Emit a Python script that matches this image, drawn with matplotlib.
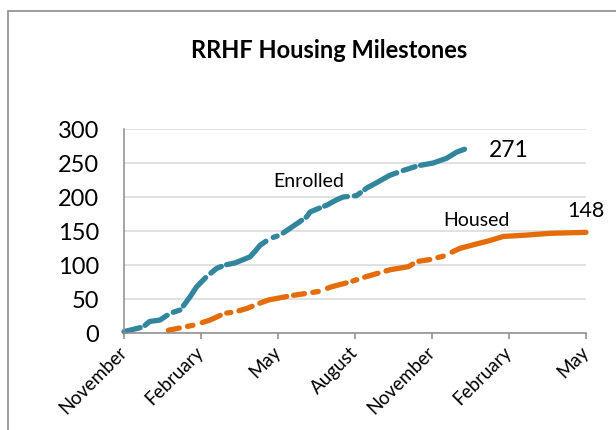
import matplotlib.pyplot as plt
from matplotlib.patches import Rectangle

plt.rcParams['font.family'] = ['Lato', 'DejaVu Sans']
plt.rcParams['lines.scale_dashes'] = False

# months counted from the first November
enrolled_m = [0, 0.75, 1.0, 1.4, 1.8, 2.2, 2.57, 2.83, 3.22, 3.61, 3.93, 4.32, 4.65,
              4.91, 5.1, 5.3, 5.69, 6.08, 6.47, 6.86, 7.12, 7.25, 7.57, 7.9, 8.29,
              8.54, 9.06, 9.45, 9.84, 10.36, 10.88, 11.46, 12.05, 12.57, 12.96, 13.32]
enrolled_v = [2, 9, 17, 19, 29, 34, 53, 68, 83, 95, 100, 103, 108,
              112, 120, 129, 139, 144, 154, 164, 171, 178, 183, 188, 196,
              200, 202, 213, 221, 232, 239, 246, 250, 257, 266, 271]

housed_m = [1.73, 2.12, 2.77, 3.35, 3.93, 4.32, 4.78, 5.3, 5.62, 6.53, 7.57, 8.09,
            8.8, 9.45, 10.36, 11.08, 11.4, 11.92, 12.44, 13.09, 13.74, 14.26,
            14.78, 15.69, 16.6, 18.0]
housed_v = [4, 7, 12, 19, 29, 31, 36, 44, 48.5, 55, 61, 68,
            75, 83, 93, 97.5, 105, 108, 113, 124.5, 131, 136,
            142, 144, 146.6, 148]
housed_solid_from = 13.09

tick_m = [0, 3, 6, 9, 12, 15, 18]
tick_labels = ['November', 'February', 'May', 'August', 'November', 'February', 'May']

teal = '#31859C'
orange = '#E46C0A'
grey = '#8C8C8C'

fig = plt.figure(figsize=(6.16, 4.3), dpi=100)
ax = fig.add_axes([124/616, 97/430, 462/616, 204/430])

dash_e = (0, (12, 4, 18, 5, 5, 4, 26, 5, 9, 4, 34, 6, 3, 5, 16, 4))
ax.plot(enrolled_m, enrolled_v, color=teal, lw=3.8, ls=dash_e,
        dash_capstyle='round', clip_on=False)

k = housed_m.index(housed_solid_from)
dash_h = (0, (8, 6, 4, 7, 14, 5, 3, 6, 10, 6, 20, 5))
ax.plot(housed_m[:k + 1], housed_v[:k + 1], color=orange, lw=3.8, ls=dash_h,
        dash_capstyle='round', clip_on=False)
ax.plot(housed_m[k:], housed_v[k:], color=orange, lw=3.8,
        solid_capstyle='round', clip_on=False)

ax.text(14.22, 269, '271', fontsize=16.5, va='center', ha='left')
ax.text(17.28, 179, '148', fontsize=15.5, va='center', ha='left')
ax.text(5.8, 223, 'Enrolled', fontsize=14, va='center', ha='left')
ax.text(12.43, 166, 'Housed', fontsize=14, va='center', ha='left')

ax.set_xlim(0, 18)
ax.set_ylim(0, 300)
ax.set_yticks(range(0, 301, 50))
ax.set_xticks(tick_m)
ax.set_xticklabels(tick_labels, rotation=45, ha='right', va='center',
                   rotation_mode='anchor', fontsize=13.5)
ax.tick_params(axis='y', length=0, pad=18, labelsize=17)
ax.tick_params(axis='x', length=4, width=1.1, color=grey, pad=8)
ax.grid(axis='y', color='#D9D9D9', lw=1.1)
ax.set_axisbelow(True)
for s in ['top', 'right']:
    ax.spines[s].set_visible(False)
for s in ['left', 'bottom']:
    ax.spines[s].set_color(grey)
    ax.spines[s].set_linewidth(1.1)

ax.set_ylabel('Households', fontsize=13.5)
ax.yaxis.label.set_transform(fig.transFigure)
ax.yaxis.label.set_position((38/616, 1 - 213/430))

fig.text(329/616, 1 - 51/430, 'RRHF Housing Milestones', ha='center',
         va='center', fontsize=17, weight='bold')

fig.add_artist(Rectangle((8/616, -0.1), 1.2, 1 - 11/430 + 0.1,
                         transform=fig.transFigure, fill=False,
                         ec=grey, lw=1.2))

fig.savefig('out.png', dpi=100)
